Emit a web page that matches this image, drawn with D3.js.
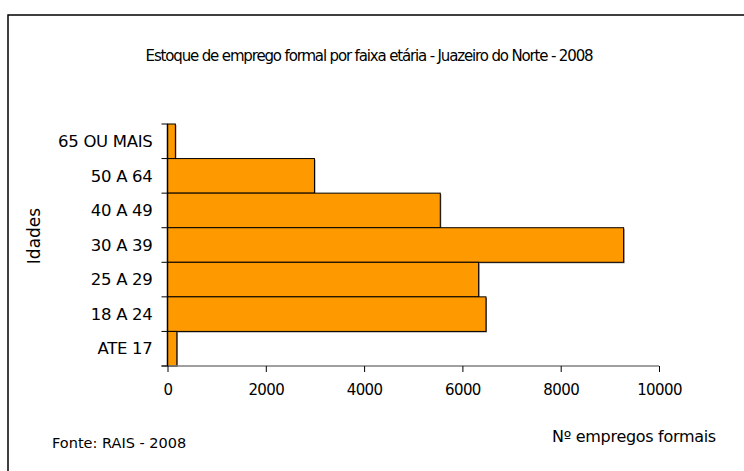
<!DOCTYPE html>
<html>
<head>
<meta charset="utf-8">
<script src="https://cdn.jsdelivr.net/npm/d3@7"></script>
<style>
  body { margin: 0; background: #fff; }
  svg { display: block; font-family: "DejaVu Sans", sans-serif; }
</style>
</head>
<body>
<svg id="chart"></svg>
<script>
// data
const categories = ['65 OU MAIS', '50 A 64', '40 A 49', '30 A 39', '25 A 29', '18 A 24', 'ATE 17'];
const values = [160, 2990, 5550, 9280, 6330, 6480, 190];
const xTicks = [0, 2000, 4000, 6000, 8000, 10000];

const width = 744;
const height = 471;
const margin = { top: 124, right: 85, bottom: 105, left: 167.5 };

const svg = d3.select('#chart')
  .attr('width', width)
  .attr('height', height);

// outer frame (only top and left show)
svg.append('path')
  .attr('d', `M8,${height} L8,15 L${width},15`)
  .attr('fill', 'none')
  .attr('stroke', '#000')
  .attr('stroke-width', 1.5);

// scales
const xScale = d3.scaleLinear()
  .domain([0, 10000])
  .range([margin.left, width - margin.right]);

const yScale = d3.scaleBand()
  .domain(categories)
  .range([margin.top, height - margin.bottom])
  .padding(0);

// title
svg.append('text')
  .attr('x', 369)
  .attr('y', 61)
  .attr('text-anchor', 'middle')
  .attr('font-size', 15)
  .attr('letter-spacing', -1.15)
  .text('Estoque de emprego formal por faixa etária - Juazeiro do Norte - 2008');

// bar shadows
svg.selectAll('.shadow')
  .data(values)
  .enter()
  .append('rect')
  .attr('class', 'shadow')
  .attr('x', xScale(0) + 1)
  .attr('y', (d, i) => yScale(categories[i]) + 1)
  .attr('width', d => xScale(d) - xScale(0))
  .attr('height', yScale.bandwidth())
  .attr('fill', '#7a7a7a');

// bars
svg.selectAll('.bar')
  .data(values)
  .enter()
  .append('rect')
  .attr('class', 'bar')
  .attr('x', xScale(0))
  .attr('y', (d, i) => yScale(categories[i]))
  .attr('width', d => xScale(d) - xScale(0))
  .attr('height', yScale.bandwidth())
  .attr('fill', '#ff9900')
  .attr('stroke', '#000')
  .attr('stroke-width', 1);

// x axis
const xAxis = svg.append('g')
  .attr('transform', `translate(0, ${height - margin.bottom})`)
  .call(d3.axisBottom(xScale).tickValues(xTicks).tickSize(6).tickSizeOuter(0).tickFormat(d3.format('d')));
xAxis.select('.domain').attr('stroke', '#808080').attr('stroke-width', 1.5)
  .attr('d', `M${xScale(0) - 6},0H${xScale(10000)}`);
xAxis.selectAll('.tick line').attr('stroke', '#000');
xAxis.selectAll('.tick text')
  .attr('font-size', 15)
  .attr('letter-spacing', -0.6)
  .attr('font-family', '"DejaVu Sans", sans-serif')
  .attr('fill', '#000')
  .attr('dy', '1.33em');

// y axis: ticks at band boundaries
const yAxis = svg.append('g')
  .attr('transform', `translate(${margin.left}, 0)`);
yAxis.append('line')
  .attr('y1', margin.top)
  .attr('y2', height - margin.bottom)
  .attr('stroke', '#000')
  .attr('stroke-width', 1.5);
const bounds = categories.map(c => yScale(c)).concat([height - margin.bottom]);
yAxis.selectAll('.ytick')
  .data(bounds)
  .enter()
  .append('line')
  .attr('x1', -6)
  .attr('x2', 0)
  .attr('y1', d => d)
  .attr('y2', d => d)
  .attr('stroke', '#000');
yAxis.selectAll('.ylabel')
  .data(categories)
  .enter()
  .append('text')
  .attr('x', -15)
  .attr('y', d => yScale(d) + yScale.bandwidth() / 2)
  .attr('dy', '0.35em')
  .attr('text-anchor', 'end')
  .attr('font-size', 16.5)
  .attr('letter-spacing', -0.3)
  .text(d => d);

// axis titles
svg.append('text')
  .attr('transform', 'translate(40, 236) rotate(-90)')
  .attr('text-anchor', 'middle')
  .attr('font-size', 17)
  .text('Idades');

svg.append('text')
  .attr('x', 634)
  .attr('y', 442)
  .attr('text-anchor', 'middle')
  .attr('font-size', 16)
  .attr('letter-spacing', -0.3)
  .text('Nº empregos formais');

svg.append('text')
  .attr('x', 52)
  .attr('y', 448)
  .attr('font-size', 14.5)
  .text('Fonte: RAIS - 2008');
</script>
</body>
</html>
